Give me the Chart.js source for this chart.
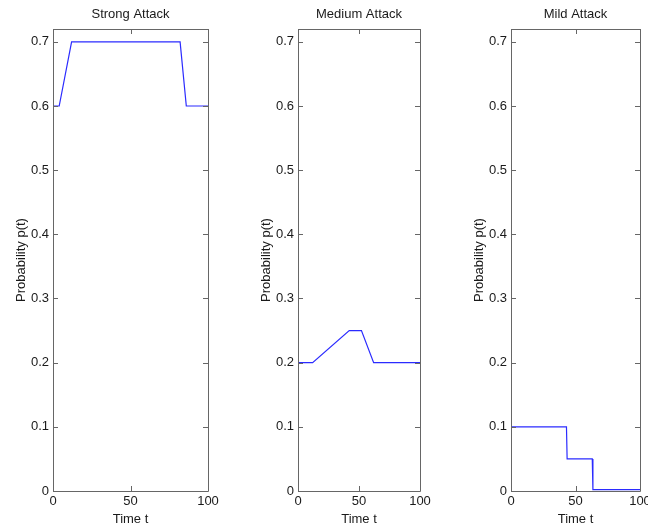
<!DOCTYPE html>
<html>
<head>
<meta charset="utf-8">
<script src="https://cdn.jsdelivr.net/npm/chart.js@4/dist/chart.umd.min.js"></script>
<style>
  html, body { margin: 0; padding: 0; background: #fff; overflow: hidden; }
  #wrap { position: relative; width: 648px; height: 525px; overflow: hidden; background: #fff; }
  #wrap canvas { position: absolute; top: 0; }
</style>
</head>
<body>
<div id="wrap">
  <canvas id="c0"></canvas>
  <canvas id="c1"></canvas>
  <canvas id="c2"></canvas>
</div>
<script>
// attack scenarios, one subplot each
const titles = ['Strong Attack', 'Medium Attack', 'Mild Attack'];

const timeStrong = [0, 4, 12, 82, 86, 100];
const probStrong = [0.6, 0.6, 0.7, 0.7, 0.6, 0.6];

const timeMedium = [0, 12, 42, 52, 62, 100];
const probMedium = [0.2, 0.2, 0.25, 0.25, 0.2, 0.2];

const timeMild = [0, 43, 43.5, 63, 63.5, 100];
const probMild = [0.1, 0.1, 0.05, 0.05, 0.002, 0.002];

const xTicks = [0, 50, 100];
const yTicks = [0, 0.1, 0.2, 0.3, 0.4, 0.5, 0.6, 0.7];
const xMax = 100;
const yMax = 0.72;

const series = [
  [timeStrong, probStrong],
  [timeMedium, probMedium],
  [timeMild, probMild]
];

// axes box: left edge and width in page px
const boxes = [
  { left: 53, width: 155 },
  { left: 298, width: 122 },
  { left: 511, width: 129 }
];
const SIDE = 53;      // y-axis strip width
const TOP = 29;       // room above the box for the subplot title
const HEIGHT = 525;
const FONT = "'Liberation Sans', Arial, Helvetica, sans-serif";
const TEXT = '#1a1a1a';
const AXIS = '#666';
const TICK_LEN = 5;

// MATLAB-style box with ticks pointing inwards on all four sides
const boxAxes = {
  id: 'boxAxes',
  afterDatasetsDraw(chart) {
    const { ctx, chartArea: a, scales } = chart;
    ctx.save();
    ctx.strokeStyle = AXIS;
    ctx.lineWidth = 1;
    ctx.beginPath();
    ctx.rect(Math.round(a.left) + 0.5, Math.round(a.top) + 0.5,
             Math.round(a.right - a.left), Math.round(a.bottom - a.top));
    xTicks.forEach(v => {
      const px = Math.round(scales.x.getPixelForValue(v)) + 0.5;
      ctx.moveTo(px, a.bottom); ctx.lineTo(px, a.bottom - TICK_LEN);
      ctx.moveTo(px, a.top); ctx.lineTo(px, a.top + TICK_LEN);
    });
    yTicks.forEach(v => {
      const py = Math.round(scales.y.getPixelForValue(v)) + 0.5;
      ctx.moveTo(a.left, py); ctx.lineTo(a.left + TICK_LEN, py);
      ctx.moveTo(a.right, py); ctx.lineTo(a.right - TICK_LEN, py);
    });
    ctx.stroke();
    ctx.restore();
  }
};

// subplot title centred over the box, not over the whole canvas
const boxTitle = {
  id: 'boxTitle',
  afterDraw(chart, args, opts) {
    const { ctx, chartArea: a } = chart;
    ctx.save();
    ctx.fillStyle = TEXT;
    ctx.font = '13px ' + FONT;
    ctx.textAlign = 'center';
    ctx.textBaseline = 'middle';
    ctx.fillText(opts.text, (a.left + a.right) / 2, 14.5);
    ctx.restore();
  }
};

function makePanel(i) {
  const canvas = document.getElementById('c' + i);
  const box = boxes[i];
  const w = SIDE + box.width + SIDE;
  canvas.width = w;
  canvas.height = HEIGHT;
  canvas.style.width = w + 'px';
  canvas.style.height = HEIGHT + 'px';
  canvas.style.left = (box.left - SIDE) + 'px';

  const [ts, ps] = series[i];
  const points = ts.map((t, k) => ({ x: t, y: ps[k] }));

  return new Chart(canvas, {
    type: 'line',
    data: {
      datasets: [{
        data: points,
        borderColor: '#2b2bff',
        borderWidth: 1.2,
        pointRadius: 0,
        tension: 0,
        fill: false
      }]
    },
    options: {
      responsive: false,
      animation: false,
      layout: { padding: { left: 0, right: SIDE, top: TOP, bottom: 0 } },
      plugins: {
        legend: { display: false },
        tooltip: { enabled: false },
        title: { display: false },
        boxTitle: { text: titles[i] }
      },
      scales: {
        x: {
          type: 'linear',
          min: 0,
          max: xMax,
          grid: { display: false, drawTicks: false },
          border: { display: false },
          ticks: {
            color: TEXT,
            font: { family: FONT, size: 13 },
            padding: 3,
            maxRotation: 0,
            autoSkip: false
          },
          afterBuildTicks: s => { s.ticks = xTicks.map(v => ({ value: v })); },
          afterFit: s => { s.height = 34; },
          title: {
            display: true,
            text: 'Time t',
            color: TEXT,
            font: { family: FONT, size: 13, lineHeight: 0.85 },
            padding: { top: 0, bottom: 0 }
          }
        },
        y: {
          type: 'linear',
          min: 0,
          max: yMax,
          grid: { display: false, drawTicks: false },
          border: { display: false },
          ticks: {
            color: TEXT,
            font: { family: FONT, size: 13 },
            padding: 4,
            autoSkip: false,
            callback: v => (v === 0 ? '0' : v.toFixed(1))
          },
          afterBuildTicks: s => { s.ticks = yTicks.map(v => ({ value: v })); },
          afterFit: s => { s.width = SIDE; },
          title: {
            display: true,
            text: 'Probability p(t)',
            color: TEXT,
            font: { family: FONT, size: 13, lineHeight: 1.2 },
            padding: { top: 13.6, bottom: 0 }
          }
        }
      }
    },
    plugins: [boxAxes, boxTitle]
  });
}

[0, 1, 2].forEach(makePanel);
</script>
</body>
</html>
